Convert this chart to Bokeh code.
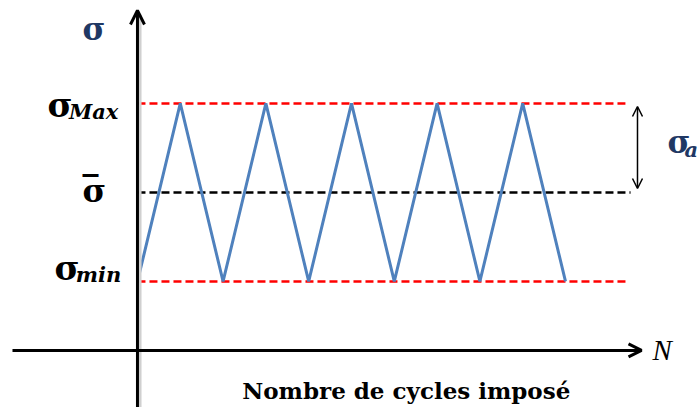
from bokeh.plotting import figure
from bokeh.models import Arrow, OpenHead, Range1d
from bokeh.core.properties import value
from bokeh.embed import file_html
from bokeh.resources import INLINE

# ---- data ----
cycles = [0, 0.5, 1, 1.5, 2, 2.5, 3, 3.5, 4, 4.5, 5]
stress = [1, 3, 1, 3, 1, 3, 1, 3, 1, 3, 1]
sigma_min, sigma_mean, sigma_max = 1, 2, 3
ref_levels = [sigma_max, sigma_mean, sigma_min]
ref_ends = [5.70, 5.76, 5.74]
ref_colors = ["#FF0000", "#000000", "#FF0000"]
title_text = "Nombre de cycles imposé"

p = figure(width=700, height=407,
           x_range=Range1d(-1.600, 6.577), y_range=Range1d(-0.416, 4.157),
           output_backend="svg", toolbar_location=None, min_border=0,
           x_axis_location=None, y_axis_location=None)
p.grid.visible = False
p.outline_line_color = None
p.background_fill_color = "white"
p.border_fill_color = "white"

# reference dashed levels
for lvl, xe, col in zip(ref_levels, ref_ends, ref_colors):
    p.line([0, xe], [lvl, lvl], line_color=col, line_width=2.5, line_dash="8 4")

# zigzag loading
p.line(cycles, stress, line_color="#4F81BD", line_width=3)

# axes as arrows (with a faint shadow)
p.line([0.03, 0.03], [-0.45, 4.0], line_color="#D0D0D0", line_width=3)
p.add_layout(Arrow(end=OpenHead(size=14, line_width=3, line_color="black"),
                   x_start=0, y_start=-0.45, x_end=0, y_end=4.045,
                   line_width=3, line_color="black"))
p.add_layout(Arrow(end=OpenHead(size=13, line_width=3, line_color="black"),
                   x_start=-1.46, y_start=0.225, x_end=5.888, y_end=0.225,
                   line_width=3, line_color="black"))
# amplitude double arrow
p.add_layout(Arrow(start=OpenHead(size=10, line_width=1.5, line_color="black"),
                   end=OpenHead(size=10, line_width=1.5, line_color="black"),
                   x_start=5.841, y_start=2.966, x_end=5.841, y_end=2.045,
                   line_width=1.5, line_color="black"))

serif = value("DejaVu Serif")
navy = "#1F3864"

# main sigma glyphs
p.text(x=[-1.051, -0.970], y=[2.978, 1.157], text=["σ", "σ"],
       text_font=serif, text_font_style="bold", text_font_size="34px",
       text_color="black", text_align="left", text_baseline="alphabetic")
p.text(x=[-0.643], y=[2.022], text=["σ"],
       text_font=serif, text_font_style="bold", text_font_size="32px",
       text_color="black", text_align="left", text_baseline="alphabetic")
p.text(x=[-0.643], y=[2.067], text=["‾"],
       text_font=serif, text_font_style="bold", text_font_size="32px",
       text_color="black", text_align="left", text_baseline="alphabetic")
p.text(x=[-0.643, 6.192], y=[3.832, 2.562], text=["σ", "σ"],
       text_font=serif, text_font_style="bold", text_font_size="31px",
       text_color=navy, text_align="left", text_baseline="alphabetic")
# subscripts
p.text(x=[-0.80, -0.72], y=[2.91, 1.08], text=["Max", "min"],
       text_font=serif, text_font_style="bold italic", text_font_size="21px",
       text_color="black", text_align="left", text_baseline="alphabetic")
p.text(x=[6.39], y=[2.48], text=["a"],
       text_font=serif, text_font_style="bold italic", text_font_size="21px",
       text_color=navy, text_align="left", text_baseline="alphabetic")
# N
p.text(x=[6.016], y=[0.225], text=["N"],
       text_font=value("Liberation Serif"), text_font_style="italic", text_font_size="29px",
       text_color="black", text_align="left", text_baseline="alphabetic")
# x title
p.text(x=[3.14], y=[-0.225], text=[title_text],
       text_font=serif, text_font_style="bold", text_font_size="23px",
       text_color="black", text_align="center", text_baseline="alphabetic")

open("out.html", "w").write(file_html(p, INLINE))
